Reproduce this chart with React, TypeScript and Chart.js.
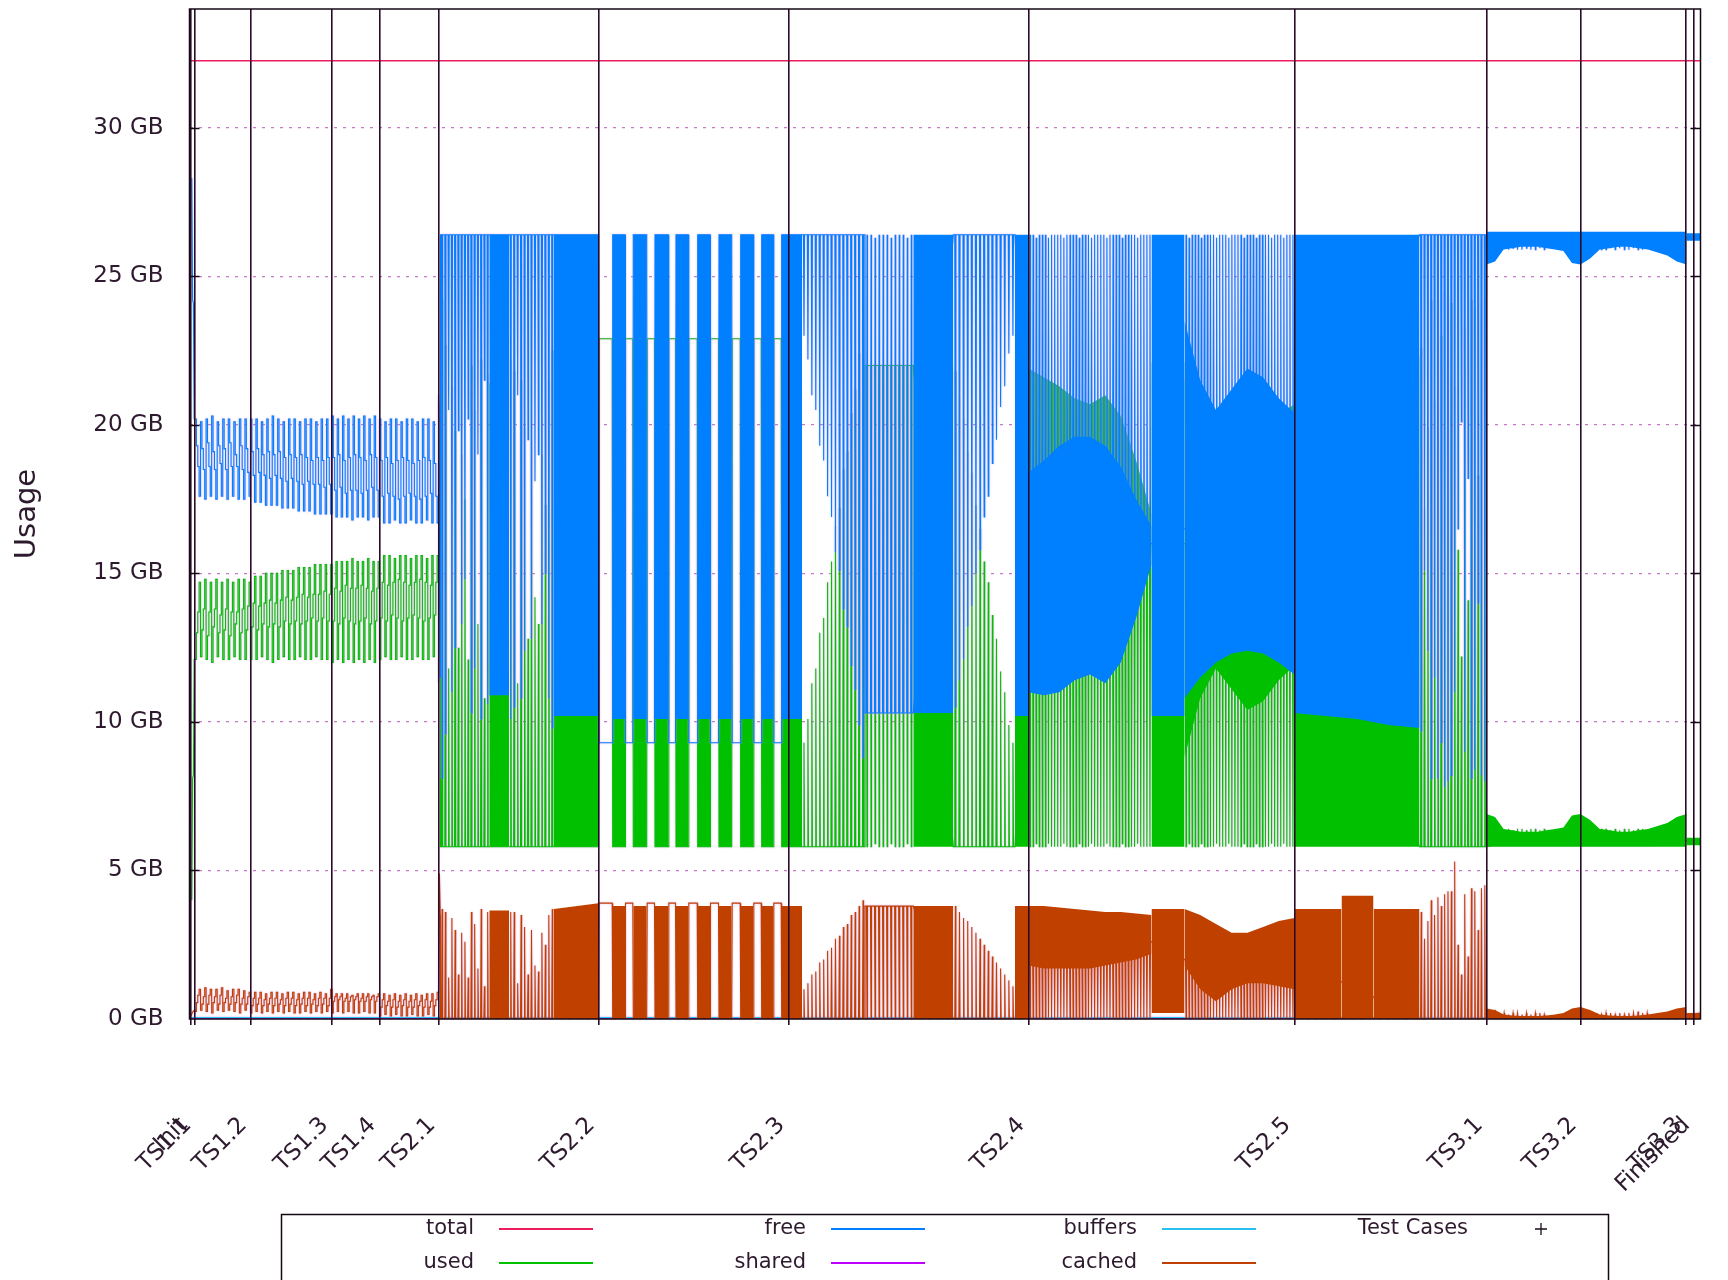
import React, { useEffect, useRef } from 'react';
import { Chart, registerables } from 'chart.js';

Chart.register(...registerables);

// ---------------- axes ----------------
const testCaseNames = ['Init', 'TS1.1', 'TS1.2', 'TS1.3', 'TS1.4', 'TS2.1', 'TS2.2', 'TS2.3', 'TS2.4', 'TS2.5', 'TS3.1', 'TS3.2', 'TS3.3', 'Finished'];
const testCaseTimes = [1.5, 5.5, 61, 142.5, 190, 249.5, 409, 599, 839, 1105, 1297, 1391, 1496.5, 1504];
const timeMin = 0;
const timeMax = 1511;
const usageTicksGB = [0, 5, 10, 15, 20, 25, 30];
const usageMaxGB = 34;
const totalGB = 32.26;

// ---------------- TS1 samples (free / used / cached) ----------------
const freeTS1a = [20.2,19.3,18.6,17.6, 20.1,19.2,18.5,17.5, 20.2,19.4,18.6,17.6, 20.3,19.1,18.5,17.5, 20.1,19.3,18.7,17.6, 20.2,19.2,18.5,17.5, 20.2,19.4,18.6,17.6, 20.1,19.0,18.6,17.5, 20.2,19.3,18.5,17.5, 20.2,19.2,18.4,17.6];
const usedTS1a = [12.1,13.0,13.7,14.7, 12.2,13.1,13.8,14.8, 12.1,12.9,13.7,14.7, 12.0,13.2,13.8,14.8, 12.2,13.0,13.6,14.7, 12.1,13.1,13.8,14.8, 12.1,12.9,13.7,14.7, 12.2,13.3,13.7,14.8, 12.1,13.0,13.8,14.8, 12.1,13.1,13.9,14.7];
const cachedTS1a = [0.25,0.55,0.8,1.0, 0.3,0.5,0.75,1.05, 0.25,0.5,0.8,1.0, 0.2,0.55,0.75,1.0, 0.3,0.5,0.8,1.05, 0.25,0.55,0.7,0.95, 0.3,0.5,0.75,1.0, 0.25,0.55,0.8,1.0, 0.2,0.5,0.7,0.95, 0.3,0.5,0.75,0.9];

const freeTS1b = [20.2,19.1,18.3,17.4, 20.2,19.2,18.4,17.4, 20.1,19.0,18.3,17.3, 20.2,19.1,18.2,17.3, 20.3,19.0,18.3,17.3, 20.2,19.1,18.2,17.2, 20.1,18.9,18.1,17.2, 20.2,19.0,18.2,17.2, 20.2,18.9,18.1,17.1, 20.1,19.0,18.0,17.1, 20.2,18.9,18.1,17.1, 20.2,18.8,18.0,17.0, 20.1,18.9,18.0,17.0, 20.2,18.8,17.9,17.0, 20.2,18.9,18.0,17.0];
const usedTS1b = [12.1,13.2,14.0,14.9, 12.1,13.1,13.9,14.9, 12.2,13.3,14.0,15.0, 12.1,13.2,14.1,15.0, 12.0,13.3,14.0,15.0, 12.1,13.2,14.1,15.1, 12.2,13.4,14.2,15.1, 12.1,13.3,14.1,15.1, 12.1,13.4,14.2,15.2, 12.2,13.3,14.3,15.2, 12.1,13.4,14.2,15.2, 12.1,13.5,14.3,15.3, 12.2,13.4,14.3,15.3, 12.1,13.5,14.4,15.3, 12.1,13.4,14.3,15.3];
const cachedTS1b = [0.2,0.45,0.7,0.9, 0.25,0.5,0.7,0.9, 0.2,0.45,0.65,0.85, 0.25,0.5,0.7,0.9, 0.2,0.45,0.7,0.9, 0.25,0.5,0.65,0.85, 0.2,0.45,0.7,0.9, 0.25,0.5,0.7,0.9, 0.2,0.45,0.65,0.85, 0.2,0.5,0.7,0.9, 0.25,0.45,0.7,0.9, 0.2,0.5,0.65,0.85, 0.25,0.45,0.7,0.9, 0.2,0.5,0.7,0.85, 0.25,0.45,0.7,1.0];

const freeTS1c = [20.3,18.9,17.8,16.9, 20.2,19.0,17.9,16.9, 20.3,18.8,17.7,16.9, 20.2,18.9,17.8,16.8, 20.3,19.0,17.8,16.9, 20.2,18.9,17.7,16.9, 20.3,18.8,17.8,16.8, 20.2,19.0,17.9,16.9, 20.3,18.9,17.8,16.9];
const usedTS1c = [12.0,13.4,14.5,15.4, 12.1,13.3,14.4,15.4, 12.0,13.5,14.6,15.4, 12.1,13.4,14.5,15.5, 12.0,13.3,14.5,15.4, 12.1,13.4,14.6,15.4, 12.0,13.5,14.5,15.5, 12.1,13.3,14.4,15.4, 12.0,13.4,14.5,15.4];
const cachedTS1c = [0.2,0.6,0.75,0.85, 0.25,0.65,0.75,0.85, 0.2,0.6,0.7,0.85, 0.25,0.6,0.75,0.8, 0.2,0.65,0.75,0.85, 0.2,0.6,0.7,0.85, 0.25,0.6,0.75,0.85, 0.2,0.65,0.75,0.8, 0.2,0.6,0.75,0.85];

const freeTS1d = [20.2,18.8,17.6,16.7, 20.1,18.9,17.7,16.7, 20.2,18.7,17.6,16.8, 20.2,18.8,17.5,16.7, 20.1,18.9,17.6,16.7, 20.2,18.8,17.7,16.8, 20.2,18.7,17.6,16.7, 20.1,18.8,17.5,16.7, 20.2,18.9,17.6,16.8, 20.2,18.8,17.7,16.7, 20.1,18.7,17.6,16.7];
const usedTS1d = [12.1,13.5,14.7,15.6, 12.2,13.4,14.6,15.6, 12.1,13.6,14.7,15.5, 12.1,13.5,14.8,15.6, 12.2,13.4,14.7,15.6, 12.1,13.5,14.6,15.5, 12.1,13.6,14.7,15.6, 12.2,13.5,14.8,15.6, 12.1,13.4,14.7,15.5, 12.1,13.5,14.6,15.6, 12.2,13.6,14.7,15.6];
const cachedTS1d = [0.1,0.4,0.65,0.85, 0.15,0.45,0.6,0.8, 0.1,0.4,0.65,0.85, 0.15,0.4,0.6,0.8, 0.1,0.45,0.65,0.85, 0.1,0.4,0.6,0.8, 0.15,0.4,0.65,0.85, 0.1,0.45,0.6,0.8, 0.1,0.4,0.65,0.85, 0.15,0.4,0.6,0.85, 0.1,0.45,0.65,0.9];

// ---------------- TS2 / TS3 pulse extremes ----------------
const freeA = [8.1, 9.6, 20.5, 11.0, 12.5, 19.8, 13.3, 14.8, 20.2, 10.3, 11.8, 19.0, 10.1, 21.5, 10.6];
const usedA = [24.2, 22.7, 11.8, 21.3, 19.8, 12.5, 19.0, 17.5, 12.1, 22.0, 20.5, 13.3, 22.2, 10.8, 21.7];
const cachedA = [3.7, 3.6, 1.4, 3.4, 3.0, 1.5, 2.9, 2.6, 1.4, 3.6, 3.2, 1.7, 3.7, 1.1, 3.6];

const freeB = [10.1, 10.5, 21.0, 10.8, 12.4, 19.5, 12.8, 18.1, 19.0, 13.3, 15.0, 10.8, 9.8];
const usedB = [22.2, 21.8, 11.3, 21.5, 19.9, 12.8, 19.5, 14.2, 13.3, 19.0, 17.3, 21.5, 22.5];
const cachedB = [3.6, 3.6, 1.2, 3.5, 3.1, 1.5, 3.0, 1.8, 1.6, 2.9, 2.5, 3.5, 3.7];

const freeC = [23.0, 22.2, 21.0, 20.5, 19.3, 18.8, 17.6, 16.9, 15.7, 15.1, 13.8, 13.2, 11.9, 11.1, 9.9, 8.8];
const usedC = [9.3, 10.1, 11.3, 11.8, 13.0, 13.5, 14.7, 15.4, 16.6, 17.2, 18.5, 19.1, 20.4, 21.2, 22.4, 23.5];
const cachedC = [1.0, 1.2, 1.5, 1.6, 1.9, 2.0, 2.3, 2.4, 2.7, 2.8, 3.1, 3.2, 3.5, 3.6, 3.8, 4.0];

const freeD = [26.4, 26.4, 26.3, 26.4, 26.4, 26.4, 26.3, 26.4, 26.4, 26.4, 26.3, 26.4];
const usedD = [5.8, 5.8, 5.9, 5.8, 5.8, 5.8, 5.9, 5.8, 5.8, 5.8, 5.9, 5.8];
const cachedD = [0, 0, 0.05, 0, 0, 0, 0.05, 0, 0, 0, 0.05, 0];

const freeE = [10.5, 11.4, 12.1, 13.2, 13.9, 15.0, 15.8, 16.9, 17.6, 18.7, 19.5, 20.6, 21.3, 22.4, 23.0];
const usedE = [21.8, 20.9, 20.2, 19.1, 18.4, 17.3, 16.5, 15.4, 14.7, 13.6, 12.8, 11.7, 11.0, 9.9, 9.3];
const cachedE = [3.8, 3.6, 3.4, 3.3, 3.1, 2.9, 2.7, 2.5, 2.3, 2.1, 1.9, 1.7, 1.5, 1.3, 1.1];

const freeF = [26.4, 26.4, 26.3, 26.4, 26.4, 26.4, 26.3, 26.4, 26.4, 26.4, 26.4, 26.3, 26.4, 26.4, 26.4, 26.4, 26.3, 26.4, 26.4, 26.4, 26.3, 26.4, 26.4, 26.4, 26.4, 26.3, 26.4, 26.4, 26.4, 26.4, 26.3, 26.4, 26.4, 26.4, 26.4, 26.3, 26.4, 26.4, 26.4, 26.4];
const usedF = [5.8, 5.8, 5.9, 5.8, 5.8, 5.8, 5.9, 5.8, 5.8, 5.8, 5.8, 5.9, 5.8, 5.8, 5.8, 5.8, 5.9, 5.8, 5.8, 5.8, 5.9, 5.8, 5.8, 5.8, 5.8, 5.9, 5.8, 5.8, 5.8, 5.8, 5.9, 5.8, 5.8, 5.8, 5.8, 5.9, 5.8, 5.8, 5.8, 5.8];
const cachedF = [0, 0, 0.05, 0, 0, 0, 0.05, 0, 0, 0, 0, 0.05, 0, 0, 0, 0, 0.05, 0, 0, 0, 0.05, 0, 0, 0, 0, 0.05, 0, 0, 0, 0, 0.05, 0, 0, 0, 0, 0.05, 0, 0, 0, 0];

const freeH = [26.4, 26.3, 26.4, 26.4, 26.4, 26.3, 26.4, 26.4, 26.4, 26.4, 26.3, 26.4, 26.4, 26.4, 26.3, 26.4, 26.4, 26.4, 26.4, 26.3, 26.4, 26.4, 26.4, 26.3, 26.4, 26.4, 26.4, 26.4, 26.3, 26.4, 26.4, 26.4, 26.3, 26.4, 26.4, 26.4];
const usedH = [5.8, 5.9, 5.8, 5.8, 5.8, 5.9, 5.8, 5.8, 5.8, 5.8, 5.9, 5.8, 5.8, 5.8, 5.9, 5.8, 5.8, 5.8, 5.8, 5.9, 5.8, 5.8, 5.8, 5.9, 5.8, 5.8, 5.8, 5.8, 5.9, 5.8, 5.8, 5.8, 5.9, 5.8, 5.8, 5.8];
const cachedH = [0, 0.05, 0, 0, 0, 0.05, 0, 0, 0, 0, 0.05, 0, 0, 0, 0.05, 0, 0, 0, 0, 0.05, 0, 0, 0, 0.05, 0, 0, 0, 0, 0.05, 0, 0, 0, 0.05, 0, 0, 0];

const freeJ = [9.7, 15.1, 12.4, 8.1, 11.5, 8.1, 9.3, 7.8, 8.0, 8.2, 11.0, 16.5, 20.1, 9.0, 18.2, 8.1, 8.4, 14.0, 8.2, 8.0];
const usedJ = [22.6, 17.2, 19.9, 24.2, 20.8, 24.2, 23.0, 24.5, 24.3, 24.1, 21.3, 15.8, 12.2, 23.3, 14.1, 24.2, 23.9, 18.3, 24.1, 24.3];
const cachedJ = [3.6, 2.7, 3.3, 4.0, 3.5, 4.1, 3.8, 4.2, 4.3, 4.3, 5.3, 2.5, 1.5, 4.2, 2.1, 4.4, 4.3, 3.0, 4.4, 4.5];

const freeK = [25.95, 25.9, 25.95, 25.9, 25.95, 25.9, 25.9, 25.95, 25.9, 25.9, 25.95, 25.9];
const usedK = [6.35, 6.4, 6.35, 6.4, 6.35, 6.4, 6.4, 6.35, 6.4, 6.4, 6.35, 6.4];
const cachedK = [0.2, 0.15, 0.2, 0.15, 0.2, 0.2, 0.15, 0.2, 0.15, 0.2, 0.2, 0.15];

const freeL = [25.9, 25.95, 25.9, 25.9, 25.95, 25.9, 25.95, 25.9, 25.9, 25.95, 25.9, 25.9, 25.95];
const usedL = [6.4, 6.35, 6.4, 6.4, 6.35, 6.4, 6.35, 6.4, 6.4, 6.35, 6.4, 6.4, 6.35];
const cachedL = [0.15, 0.2, 0.15, 0.2, 0.2, 0.15, 0.2, 0.15, 0.2, 0.2, 0.25, 0.2, 0.2];

// TS2.2 -> TS2.3 alternating blocks and gaps
const ts22Gaps = [[409, 423.2], [435.5, 443.8], [457.2, 465.5], [478.8, 486.5], [498.8, 508.2], [520.5, 529.5], [542.2, 551.2], [563.8, 572.2], [583.8, 592.2]];
const ts22Blocks = [[423.2, 435.5], [443.8, 457.2], [465.5, 478.8], [486.5, 498.8], [508.2, 520.5], [529.5, 542.2], [551.2, 563.8], [572.2, 583.8], [592.2, 612.5]];
const freeGapLevel = 9.3;
const usedGapLevel = 22.9;
const cachedGapLevel = 3.9;

// envelopes of the dense (solid) stretches
const freeFLow = [11.0, 10.9, 11.0, 11.4, 11.6, 11.3, 12.0, 13.5, 15.3];
const freeFHigh = [18.4, 18.8, 19.3, 19.6, 19.6, 19.3, 18.6, 17.5, 16.6];
const usedFLow = [13.9, 13.5, 13.0, 12.7, 12.7, 13.0, 13.7, 14.8, 15.7];
const usedFHigh = [21.9, 21.6, 21.3, 20.9, 20.7, 21.0, 20.3, 18.8, 17.0];
const cachedFLow = [1.8, 1.7, 1.7, 1.7, 1.7, 1.8, 1.9, 2.0, 2.2];
const cachedFHigh = [3.8, 3.8, 3.75, 3.7, 3.65, 3.6, 3.6, 3.55, 3.5];

const freeHLow = [10.8, 11.5, 12.0, 12.3, 12.4, 12.3, 12.0, 11.6];
const freeHHigh = [23.5, 21.5, 20.5, 21.2, 21.9, 21.6, 20.9, 20.4];
const usedHLow = [8.8, 10.8, 11.8, 11.1, 10.4, 10.7, 11.4, 11.9];
const usedHHigh = [21.5, 20.8, 20.3, 20.0, 19.9, 20.0, 20.3, 20.7];
const cachedHLow = [1.8, 1.0, 0.6, 1.0, 1.2, 1.2, 1.1, 1.0];
const cachedHHigh = [3.7, 3.5, 3.2, 2.9, 2.9, 3.1, 3.3, 3.4];

const freeTS31Low = [25.4, 25.5, 25.9, 25.95, 26.0, 26.0, 26.0, 25.95, 25.9, 25.85, 25.45, 25.4];
const freeTS32Low = [25.4, 25.6, 25.9, 25.95, 26.0, 26.0, 25.95, 25.9, 25.8, 25.7, 25.5, 25.4];
const usedTS31High = [6.9, 6.8, 6.4, 6.35, 6.3, 6.3, 6.3, 6.35, 6.4, 6.45, 6.85, 6.9];
const usedTS32High = [6.9, 6.7, 6.4, 6.35, 6.3, 6.3, 6.35, 6.4, 6.5, 6.6, 6.8, 6.9];
const cachedTS31High = [0.35, 0.3, 0.15, 0.12, 0.1, 0.1, 0.1, 0.12, 0.15, 0.2, 0.35, 0.4];
const cachedTS32High = [0.4, 0.3, 0.15, 0.12, 0.1, 0.1, 0.12, 0.15, 0.2, 0.25, 0.35, 0.4];

// ---------------- series definitions ----------------
// 'v': values evenly spread (straight lines); 's': values held as equal steps;
// 'p': pulses from base to each extreme; 'h': plateau between edges
const totalSegments = [['v', 0.5, 1511, [totalGB, totalGB]]];
const sharedSegments = [['v', 0.5, 1511, [0.02, 0.02]]];
const buffersSegments = [['v', 0.5, 1511, [0.05, 0.05]]];

const freeSegments = [
  ['v', 2.3, 4.7, [28.3, 24.2, 24.1, 20.2]],
  ['s', 5.5, 61, freeTS1a],
  ['s', 61, 142.5, freeTS1b],
  ['s', 142.5, 190, freeTS1c],
  ['s', 190, 249, freeTS1d],
  ['v', 249, 250.8, [21.0, 11.5]],
  ['p', 251, 299.8, 26.4, freeA],
  ['p', 319.5, 364.5, 26.4, freeB],
  ...ts22Gaps.map(([a, b]) => ['h', a, b, 26.4, freeGapLevel]),
  ['p', 612.5, 675.5, 26.4, freeC],
  ['p', 675.5, 723.8, 10.3, freeD],
  ['p', 763.8, 825.5, 26.4, freeE],
  ['p', 839, 962, 16, freeF],
  ['p', 995, 1105, 16.5, freeH],
  ['p', 1230, 1297, 26.4, freeJ],
  ['p', 1303.5, 1357, 26.45, freeK],
  ['p', 1400.5, 1460, 26.45, freeL],
  ['v', 1497, 1511, [26.3, 26.35]],
];
const usedSegments = [
  ['v', 2.3, 4.7, [4.0, 8.1, 8.2, 12.1]],
  ['s', 5.5, 61, usedTS1a],
  ['s', 61, 142.5, usedTS1b],
  ['s', 142.5, 190, usedTS1c],
  ['s', 190, 249, usedTS1d],
  ['v', 249, 250.8, [11.3, 20.8]],
  ['p', 251, 299.8, 5.8, usedA],
  ['p', 319.5, 364.5, 5.8, usedB],
  ...ts22Gaps.map(([a, b]) => ['h', a, b, 5.8, usedGapLevel]),
  ['p', 612.5, 675.5, 5.8, usedC],
  ['p', 675.5, 723.8, 22.0, usedD],
  ['p', 763.8, 825.5, 5.8, usedE],
  ['p', 839, 962, 16, usedF],
  ['p', 995, 1105, 16, usedH],
  ['p', 1230, 1297, 5.8, usedJ],
  ['p', 1303.5, 1357, 5.85, usedK],
  ['p', 1400.5, 1460, 5.85, usedL],
  ['v', 1497, 1511, [6.0, 5.95]],
];
const cachedSegments = [
  ['v', 0.5, 5.0, [0.05, 0.15, 0.25, 0.3]],
  ['s', 5.5, 61, cachedTS1a],
  ['s', 61, 142.5, cachedTS1b],
  ['s', 142.5, 190, cachedTS1c],
  ['s', 190, 249, cachedTS1d],
  ['v', 249, 250.8, [0.9, 4.9, 3.5]],
  ['p', 251, 299.8, 0, cachedA],
  ['p', 319.5, 364.5, 0, cachedB],
  ...ts22Gaps.map(([a, b]) => ['h', a, b, 0, cachedGapLevel]),
  ['p', 612.5, 675.5, 0, cachedC],
  ['p', 675.5, 723.8, 3.8, cachedD],
  ['p', 763.8, 825.5, 0, cachedE],
  ['p', 839, 962, 2.6, cachedF],
  ['p', 995, 1105, 2.0, cachedH],
  ['p', 1230, 1297, 0, cachedJ],
  ['p', 1303.5, 1357, 0.05, cachedK],
  ['p', 1400.5, 1460, 0.05, cachedL],
  ['v', 1497, 1511, [0.15, 0.2]],
];

const freeBands = [
  [299.8, 319.5, [10.9], [26.4]],
  [364.5, 409, [10.2], [26.4]],
  ...ts22Blocks.map(([a, b]) => [a, b, [10.1], [26.4]]),
  [723.8, 763.8, [10.3], [26.4]],
  [825.5, 839, [10.2], [26.4]],
  [839, 962, freeFLow, freeFHigh],
  [962, 995, [10.2], [26.4]],
  [995, 1105, freeHLow, freeHHigh],
  [1105, 1230, [10.3, 10.2, 10.1, 9.9, 9.8], [26.4]],
  [1297, 1391, freeTS31Low, [26.5]],
  [1391, 1497, freeTS32Low, [26.5]],
  [1497, 1511, [26.2], [26.45]],
];
const usedBands = [
  [299.8, 319.5, [5.8], [21.4]],
  [364.5, 409, [5.8], [22.1]],
  ...ts22Blocks.map(([a, b]) => [a, b, [5.8], [22.2]]),
  [723.8, 763.8, [5.8], [22.0]],
  [825.5, 839, [5.8], [22.1]],
  [839, 962, usedFLow, usedFHigh],
  [962, 995, [5.8], [22.1]],
  [995, 1105, usedHLow, usedHHigh],
  [1105, 1230, [5.8], [22.3]],
  [1297, 1391, [5.8], usedTS31High],
  [1391, 1497, [5.8], usedTS32High],
  [1497, 1511, [5.85], [6.1]],
];
const cachedBands = [
  [299.8, 319.5, [0], [3.65]],
  [364.5, 409, [0], [3.7, 3.9]],
  ...ts22Blocks.map(([a, b]) => [a, b, [0], [3.8]]),
  [723.8, 763.8, [0], [3.8]],
  [825.5, 839, [0], [3.8]],
  [839, 962, cachedFLow, cachedFHigh],
  [962, 995, [0.2], [3.7]],
  [995, 1105, cachedHLow, cachedHHigh],
  [1105, 1152, [0], [3.7]],
  [1152, 1184, [0], [4.15]],
  [1184, 1230, [0], [3.7]],
  [1297, 1391, [0], cachedTS31High],
  [1391, 1497, [0], cachedTS32High],
  [1497, 1511, [0], [0.2]],
];

// ---------------- style ----------------
const COLORS: Record<string, string> = {
  total: '#ee1c5c',
  used: '#00c000',
  free: '#0080ff',
  shared: '#c000ff',
  buffers: '#28c0f0',
  cached: '#c04000',
};
const TEXT = '#2e1a2e';
const FONT = "'DejaVu Sans', 'Liberation Sans', sans-serif";
const keyColumns = [['total', 'used'], ['free', 'shared'], ['buffers', 'cached'], ['Test Cases']];

// ---------------- builders ----------------
type Pt = { x: number; y: number | null };

function buildLine(segs: any[]): Pt[] {
  const out: Pt[] = [];
  for (const s of segs) {
    const kind = s[0];
    if (kind === 'v') {
      const [, t0, t1, vals] = s;
      const n = vals.length;
      for (let i = 0; i < n; i++) out.push({ x: n === 1 ? t0 : t0 + ((t1 - t0) * i) / (n - 1), y: vals[i] });
      if (n === 1) out.push({ x: t1, y: vals[0] });
    } else if (kind === 's') {
      const [, t0, t1, vals] = s;
      const d = (t1 - t0) / vals.length;
      vals.forEach((v: number, i: number) => {
        out.push({ x: t0 + i * d, y: v }, { x: t0 + (i + 1) * d, y: v });
      });
    } else if (kind === 'p') {
      const [, t0, t1, base, ext] = s;
      const n = ext.length;
      const d = (t1 - t0) / n;
      const w = Math.min(0.55, d / 5);
      out.push({ x: t0, y: base });
      for (let i = 0; i < n; i++) {
        const c = t0 + (i + 0.5) * d;
        out.push({ x: c - w, y: base }, { x: c, y: ext[i] }, { x: c + w, y: base });
      }
      out.push({ x: t1, y: base });
    } else if (kind === 'h') {
      const [, t0, t1, edge, level] = s;
      out.push({ x: t0, y: edge }, { x: t0 + 0.5, y: level }, { x: t1 - 0.5, y: level }, { x: t1, y: edge });
    }
  }
  return out;
}

function buildBand(bands: any[]): { lo: Pt[]; hi: Pt[] } {
  const lo: Pt[] = [];
  const hi: Pt[] = [];
  for (const [t0, t1, lows, highs] of bands) {
    const n = Math.max(lows.length, highs.length, 2);
    for (let i = 0; i < n; i++) {
      const x = t0 + ((t1 - t0) * i) / (n - 1);
      lo.push({ x, y: lows.length === 1 ? lows[0] : lows[i] });
      hi.push({ x, y: highs.length === 1 ? highs[0] : highs[i] });
    }
    lo.push({ x: t1 + 0.001, y: null });
    hi.push({ x: t1 + 0.001, y: null });
  }
  return { lo, hi };
}

function lineDs(label: string, segs: any[], order: number, width = 1.1, halo = true) {
  return {
    label,
    data: buildLine(segs),
    borderColor: COLORS[label],
    backgroundColor: COLORS[label],
    borderWidth: width,
    pointRadius: 0,
    fill: false,
    tension: 0,
    spanGaps: false,
    order,
    halo,
  };
}

function bandDs(label: string, bands: any[], order: number) {
  const { lo, hi } = buildBand(bands);
  return [
    { label: label + '-lo', data: lo, borderColor: 'rgba(0,0,0,0)', borderWidth: 0, pointRadius: 0, fill: false, spanGaps: false, order },
    { label: label + '-hi', data: hi, borderColor: 'rgba(0,0,0,0)', borderWidth: 0, pointRadius: 0, fill: '-1', backgroundColor: COLORS[label], spanGaps: false, order, halo: true },
  ];
}

// soft pinkish halo around plotted marks (as in the rendered reference)
const haloPlugin = {
  id: 'lineHalo',
  beforeDatasetDraw(chart: any, args: any) {
    const ds = chart.data.datasets[args.index];
    chart.ctx.save();
    if (ds.halo) {
      chart.ctx.shadowColor = 'rgba(222,150,236,0.85)';
      chart.ctx.shadowBlur = 2;
    }
  },
  afterDatasetDraw(chart: any) {
    chart.ctx.restore();
  },
};

const framePlugin = {
  id: 'gnuplotFrame',
  afterDraw(chart: any) {
    const c = chart.ctx;
    const a = chart.chartArea;
    const y = chart.scales.y;
    c.save();
    c.strokeStyle = '#140814';
    c.lineWidth = 1.5;
    c.strokeRect(a.left, a.top, a.right - a.left, a.bottom - a.top);
    c.beginPath();
    for (const v of usageTicksGB) {
      if (v === 0) continue;
      const py = Math.round(y.getPixelForValue(v)) + 0.5;
      c.moveTo(a.left, py); c.lineTo(a.left + 10, py);
      c.moveTo(a.right - 10, py); c.lineTo(a.right, py);
    }
    c.stroke();

    // key box
    c.lineWidth = 1.5;
    c.strokeStyle = '#140814';
    c.strokeRect(281.5, 1214.5, 1327, 120);
    c.font = `21px ${FONT}`;
    c.textAlign = 'right';
    c.textBaseline = 'middle';
    const colRight = [474, 806, 1137, 1468];
    const rowY = [1229, 1263];
    keyColumns.forEach((col, ci) => {
      col.forEach((name, ri) => {
        const x = colRight[ci];
        const yy = rowY[ri];
        c.fillStyle = TEXT;
        c.fillText(name, x, yy);
        if (name === 'Test Cases') {
          c.strokeStyle = '#1a0a1a';
          c.lineWidth = 1.3;
          c.beginPath();
          c.moveTo(x + 67, yy); c.lineTo(x + 79, yy);
          c.moveTo(x + 73, yy - 6); c.lineTo(x + 73, yy + 6);
          c.stroke();
        } else {
          c.strokeStyle = COLORS[name];
          c.lineWidth = 2;
          c.beginPath();
          c.moveTo(x + 25, yy); c.lineTo(x + 119, yy);
          c.stroke();
        }
      });
    });
    c.restore();
  },
};

export default function App() {
  const ref = useRef<HTMLCanvasElement>(null);
  useEffect(() => {
    const canvas = ref.current;
    if (!canvas) return;
    // higher order = drawn first; each series' line sits under its own solid band
    const datasets: any[] = [
      lineDs('total', totalSegments, 20, 1.5, false),
      lineDs('used', usedSegments, 12),
      ...bandDs('used', usedBands, 11),
      lineDs('free', freeSegments, 10),
      ...bandDs('free', freeBands, 9),
      lineDs('shared', sharedSegments, 8),
      lineDs('buffers', buffersSegments, 7),
      lineDs('cached', cachedSegments, 6),
      ...bandDs('cached', cachedBands, 5),
    ];
    const chart = new Chart(canvas, {
      type: 'line',
      data: { datasets },
      options: {
        animation: false,
        responsive: false,
        devicePixelRatio: 1,
        events: [],
        layout: { padding: { left: 0, right: 27.5, top: 9, bottom: 0 } },
        plugins: { legend: { display: false }, tooltip: { enabled: false }, title: { display: false } },
        scales: {
          x: {
            type: 'linear',
            min: timeMin,
            max: timeMax,
            afterBuildTicks: (s: any) => { s.ticks = testCaseTimes.map((v) => ({ value: v })); },
            afterFit: (s: any) => { s.height = 261; s.paddingLeft = 0; s.paddingRight = 0; s.paddingTop = 0; s.paddingBottom = 0; },
            ticks: {
              autoSkip: false,
              minRotation: 45,
              maxRotation: 45,
              padding: 87,
              labelOffset: -7,
              color: TEXT,
              font: { family: FONT, size: 23 },
              callback: (_v: any, i: number) => testCaseNames[i],
            },
            grid: { color: '#2a0c2a', lineWidth: 1.6, tickLength: 6, z: 1 },
            border: { display: false },
          },
          y: {
            type: 'linear',
            min: 0,
            max: usageMaxGB,
            afterBuildTicks: (s: any) => { s.ticks = usageTicksGB.map((v) => ({ value: v })); },
            afterFit: (s: any) => { s.width = 189.5; s.paddingLeft = 0; s.paddingRight = 0; s.paddingTop = 0; s.paddingBottom = 0; },
            ticks: {
              padding: 26,
              color: TEXT,
              font: { family: FONT, size: 23 },
              callback: (v: any) => `${v} GB`,
            },
            grid: { color: '#c878c8', lineWidth: 1.2, drawTicks: false },
            border: { display: false, dash: [3, 6] },
            title: { display: true, text: 'Usage', color: TEXT, font: { family: FONT, size: 29 }, padding: { top: 10, bottom: 0 } },
          },
        },
      },
      plugins: [haloPlugin, framePlugin],
    } as any);
    return () => chart.destroy();
  }, []);
  return (
    <div style={{ position: 'fixed', left: 0, top: 0, width: 1728, height: 1280, background: '#ffffff' }}>
      <canvas ref={ref} width={1728} height={1280} style={{ display: 'block', width: 1728, height: 1280 }} />
    </div>
  );
}
